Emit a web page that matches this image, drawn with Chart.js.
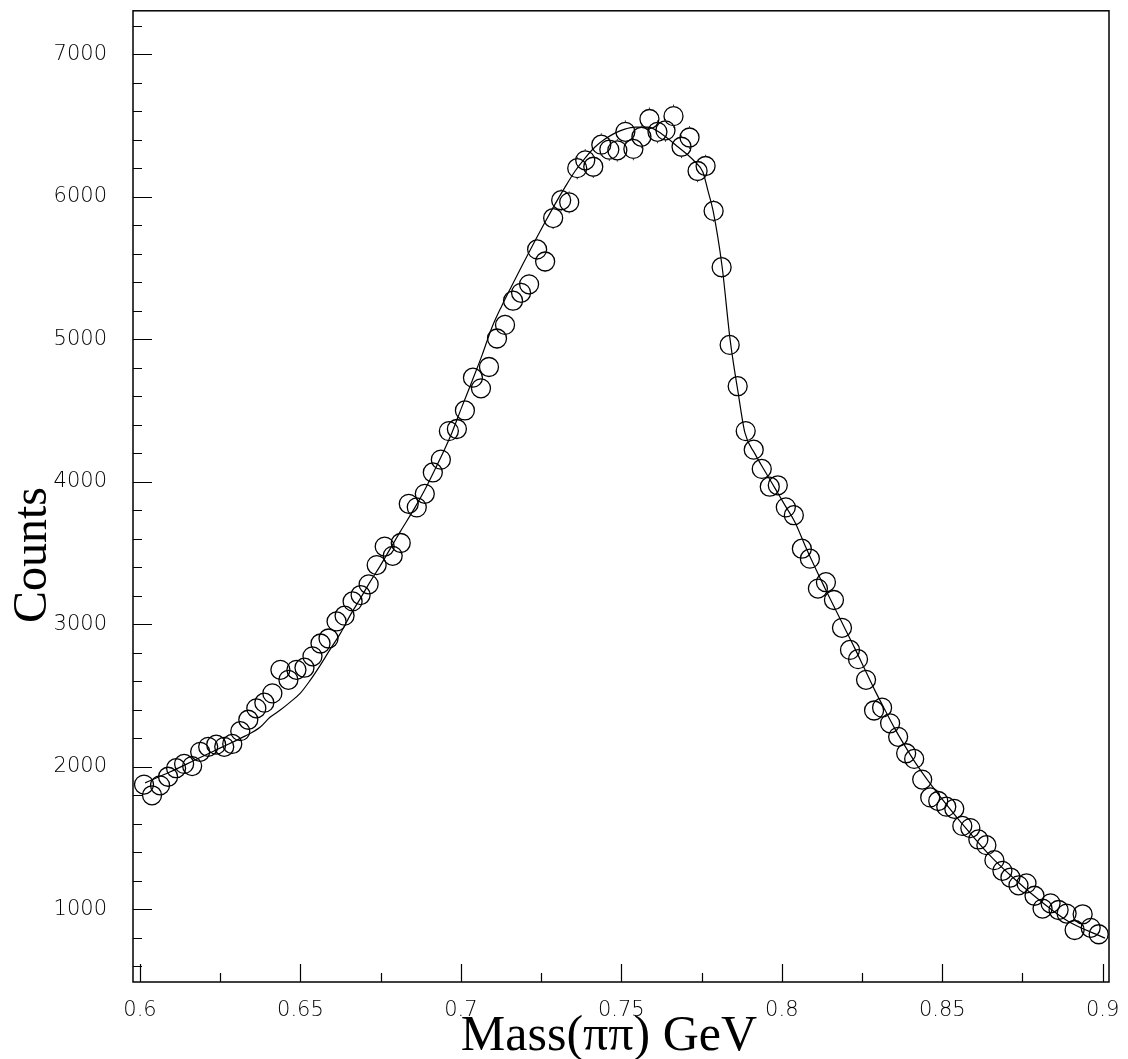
<!DOCTYPE html>
<html>
<head>
<meta charset="utf-8">
<script src="https://cdn.jsdelivr.net/npm/chart.js@4.4.1/dist/chart.umd.min.js"></script>
<style>
  html, body { margin: 0; padding: 0; background: #fff; }
  .chart-wrap { position: relative; width: 1128px; height: 1059px; }
</style>
</head>
<body>
<div class="chart-wrap"><canvas id="massChart" width="1128" height="1059"></canvas></div>
<script>
// histogram bins: 0.6 .. 0.9 GeV, 2.5 MeV wide
const BIN_LOW = 0.6;
const BIN_WIDTH = 0.0025;

const counts = [
  1875, 1800, 1870, 1930, 1990, 2020, 2005, 2105, 2140, 2155,
  2140, 2160, 2250, 2330, 2410, 2450, 2515, 2680, 2610, 2680,
  2695, 2775, 2865, 2900, 3020, 3060, 3160, 3205, 3280, 3415,
  3545, 3480, 3570, 3845, 3820, 3915, 4065, 4155, 4355, 4370,
  4500, 4730, 4655, 4805, 5005, 5100, 5270, 5325, 5385, 5630,
  5545, 5850, 5975, 5960, 6200, 6255, 6210, 6365, 6330, 6325,
  6455, 6335, 6420, 6545, 6455, 6465, 6565, 6350, 6415, 6180,
  6215, 5900, 5505, 4960, 4670, 4355, 4225, 4090, 3965, 3975,
  3820, 3765, 3530, 3460, 3250, 3295, 3170, 2975, 2820, 2755,
  2610, 2395, 2415, 2305, 2210, 2095, 2055, 1910, 1785, 1760,
  1720, 1705, 1585, 1570, 1490, 1450, 1345, 1270, 1223, 1168,
  1182, 1095, 1005, 1042, 995, 970, 855, 965, 870, 825,
];

// fitted curve
const fitMass = [
  0.6016, 0.6093, 0.6171, 0.6249, 0.6327, 0.6374, 0.6405, 0.6436, 0.6467, 0.6499,
  0.6530, 0.6561, 0.6592, 0.6624, 0.6654, 0.6686, 0.6717, 0.6748, 0.6779, 0.6810,
  0.6857, 0.6888, 0.6919, 0.6950, 0.6972, 0.7003, 0.7035, 0.7066, 0.7097, 0.7128,
  0.7159, 0.7194, 0.7231, 0.7262, 0.7293, 0.7324, 0.7356, 0.7387, 0.7418, 0.7449,
  0.7480, 0.7511, 0.7543, 0.7583, 0.7627, 0.7677, 0.7730, 0.7754, 0.7770, 0.7786,
  0.7814, 0.7839, 0.7864, 0.7885, 0.7916, 0.7948, 0.7979, 0.8010, 0.8041, 0.8072,
  0.8103, 0.8134, 0.8166, 0.8197, 0.8228, 0.8259, 0.8290, 0.8322, 0.8353, 0.8384,
  0.8415, 0.8456, 0.8499, 0.8562, 0.8643, 0.8727, 0.8811, 0.8892, 0.9007,
];
const fitCounts = [
  1887, 1963, 2047, 2131, 2215, 2277, 2347, 2396, 2452, 2515,
  2606, 2710, 2822, 2934, 3059, 3178, 3297, 3408, 3527, 3646,
  3820, 3946, 4086, 4232, 4344, 4525, 4707, 4888, 5084, 5237,
  5377, 5531, 5691, 5820, 5946, 6065, 6180, 6271, 6348, 6404,
  6446, 6474, 6488, 6488, 6438, 6348, 6243, 6173, 6040, 5900,
  5508, 4995, 4623, 4344, 4197, 4072, 3953, 3834, 3716, 3555,
  3401, 3255, 3108, 2969, 2829, 2682, 2536, 2396, 2264, 2145,
  2033, 1901, 1775, 1600, 1391, 1209, 1049, 916, 798,
];

const xMajorTicks = [0.6, 0.65, 0.7, 0.75, 0.8, 0.85, 0.9];
const xMinorTicks = [0.625, 0.675, 0.725, 0.775, 0.825, 0.875];
const yMajorTicks = [1000, 2000, 3000, 4000, 5000, 6000, 7000];
const yMinorTicks = [
  600, 800, 1200, 1400, 1600, 1800, 2200, 2400, 2600, 2800,
  3200, 3400, 3600, 3800, 4200, 4400, 4600, 4800, 5200, 5400,
  5600, 5800, 6200, 6400, 6600, 6800, 7200,
];

const X_TITLE = 'Mass(\u03c0\u03c0) GeV';
const Y_TITLE = 'Counts';
const MARKER_R = 9.5;

const histPoints = counts.map((c, i) => ({ x: BIN_LOW + BIN_WIDTH * (i + 0.5), y: c }));
const fitPoints = fitMass.map((m, i) => ({ x: m, y: fitCounts[i] }));

// poisson error bars, drawn only where they stick out of the marker
const errorBars = {
  id: 'errorBars',
  afterDatasetsDraw(chart) {
    const { ctx, scales: { y } } = chart;
    const meta = chart.getDatasetMeta(0);
    ctx.save();
    ctx.strokeStyle = '#333';
    ctx.lineWidth = 1;
    ctx.beginPath();
    meta.data.forEach((pt, i) => {
      const v = counts[i];
      const top = y.getPixelForValue(v + Math.sqrt(v));
      const bot = y.getPixelForValue(v - Math.sqrt(v));
      if (pt.y - top > MARKER_R) {
        ctx.moveTo(pt.x, pt.y - MARKER_R);
        ctx.lineTo(pt.x, top);
        ctx.moveTo(pt.x, pt.y + MARKER_R);
        ctx.lineTo(pt.x, bot);
      }
    });
    ctx.stroke();
    ctx.restore();
  },
};

// frame, inward ticks and axis titles
const frameAndTitles = {
  id: 'frameAndTitles',
  afterDraw(chart) {
    const { ctx, chartArea: a, scales: { x, y } } = chart;
    ctx.save();
    ctx.strokeStyle = '#000';
    ctx.lineWidth = 1.5;
    ctx.strokeRect(a.left, a.top, a.right - a.left, a.bottom - a.top);

    ctx.lineWidth = 1.2;
    ctx.beginPath();
    const xTick = (v, len) => {
      const p = Math.round(x.getPixelForValue(v)) + 0.5;
      ctx.moveTo(p, a.bottom);
      ctx.lineTo(p, a.bottom - len);
    };
    const yTick = (v, len) => {
      const p = Math.round(y.getPixelForValue(v)) + 0.5;
      ctx.moveTo(a.left, p);
      ctx.lineTo(a.left + len, p);
    };
    xMajorTicks.forEach((v) => xTick(v, 18));
    xMinorTicks.forEach((v) => xTick(v, 9));
    yMajorTicks.forEach((v) => yTick(v, 19));
    yMinorTicks.forEach((v) => yTick(v, 9));
    ctx.stroke();

    ctx.fillStyle = '#000';
    ctx.textAlign = 'center';
    ctx.textBaseline = 'alphabetic';
    ctx.font = '50px "Liberation Serif", serif';
    ctx.fillText(X_TITLE, 609, 1050);
    ctx.font = '48px "Liberation Serif", serif';
    ctx.translate(46, 555);
    ctx.rotate(-Math.PI / 2);
    ctx.fillText(Y_TITLE, 0, 0);
    ctx.restore();
  },
};

const noScalePadding = (s) => {
  s.paddingTop = 0;
  s.paddingBottom = 0;
  s.paddingLeft = 0;
  s.paddingRight = 0;
};

const tickFont = { family: '"DejaVu Sans", sans-serif', size: 21, weight: '200' };

new Chart(document.getElementById('massChart'), {
  type: 'scatter',
  data: {
    datasets: [
      {
        label: 'data',
        data: histPoints,
        pointStyle: 'circle',
        pointRadius: MARKER_R,
        pointBorderWidth: 1.3,
        borderColor: '#000',
        backgroundColor: 'rgba(0,0,0,0)',
        showLine: false,
      },
      {
        label: 'fit',
        type: 'line',
        data: fitPoints,
        borderColor: '#000',
        borderWidth: 1.2,
        pointRadius: 0,
        fill: false,
        cubicInterpolationMode: 'monotone',
      },
    ],
  },
  options: {
    responsive: false,
    animation: false,
    layout: { padding: { top: 6, right: 19, left: 0, bottom: 0 } },
    plugins: {
      legend: { display: false },
      tooltip: { enabled: false },
    },
    scales: {
      x: {
        type: 'linear',
        min: 0.59782,
        max: 0.90196,
        afterFit(s) { s.height = 77; noScalePadding(s); },
        afterBuildTicks(s) { s.ticks = xMajorTicks.map((v) => ({ value: v })); },
        grid: { display: false },
        border: { display: false },
        ticks: {
          padding: 8,
          maxRotation: 0,
          autoSkip: false,
          color: '#000',
          font: tickFont,
          callback: (v) => String(v),
        },
      },
      y: {
        min: 490,
        max: 7304,
        afterFit(s) { s.width = 133; noScalePadding(s); },
        afterBuildTicks(s) { s.ticks = yMajorTicks.map((v) => ({ value: v })); },
        grid: { display: false },
        border: { display: false },
        ticks: {
          padding: 18,
          autoSkip: false,
          color: '#000',
          font: tickFont,
          callback: (v) => String(v),
        },
      },
    },
  },
  plugins: [errorBars, frameAndTitles],
});
</script>
</body>
</html>
